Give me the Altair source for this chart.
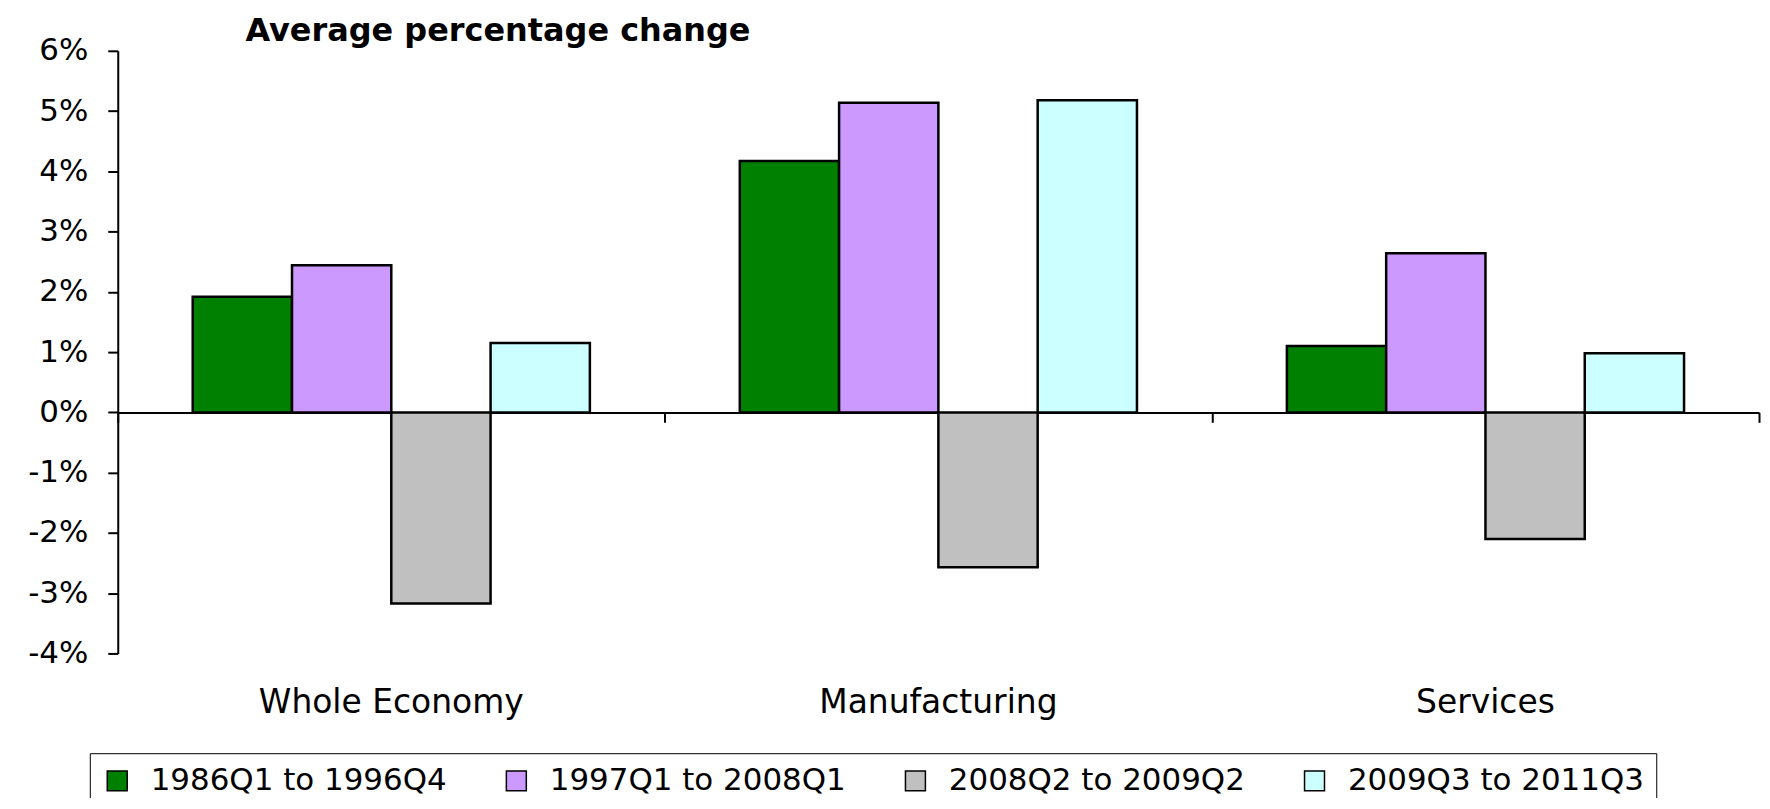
import altair as alt
import pandas as pd

categories = ["Whole Economy", "Manufacturing", "Services"]
periods = ["1986Q1 to 1996Q4", "1997Q1 to 2008Q1", "2008Q2 to 2009Q2", "2009Q3 to 2011Q3"]
colors = ["#008000", "#CC99FF", "#C0C0C0", "#CCFFFF"]

v_1986_1996 = [1.92, 4.17, 1.10]
v_1997_2008 = [2.44, 5.14, 2.64]
v_2008_2009 = [-3.17, -2.57, -2.10]
v_2009_2011 = [1.15, 5.18, 0.98]

y_ticks = [-4, -3, -2, -1, 0, 1, 2, 3, 4, 5, 6]
title_text = "Average percentage change"

series = [v_1986_1996, v_1997_2008, v_2008_2009, v_2009_2011]
rows = []
for i, c in enumerate(categories):
    for p, vals in zip(periods, series):
        rows.append({"category": c, "period": p, "value": vals[i]})
df = pd.DataFrame(rows)
cat_df = pd.DataFrame({"category": categories})

FONT = "DejaVu Sans"
W, H = 1645, 604
zero_off = -H * 0.4

x_scale = alt.Scale(domain=categories, paddingInner=0, paddingOuter=0)
y_scale = alt.Scale(domain=[-4, 6], nice=False, zero=False)

bars = alt.Chart(df).mark_bar(stroke="black", strokeWidth=2.5).encode(
    x=alt.X("category:N", sort=categories, scale=x_scale,
            axis=alt.Axis(orient="bottom", title=None, labels=False, domain=True,
                          domainColor="black", domainWidth=2, ticks=True, tickBand="extent",
                          tickSize=10, tickColor="black", tickWidth=2, offset=zero_off,
                          grid=False)),
    xOffset=alt.XOffset("period:N", sort=periods,
                        scale=alt.Scale(domain=periods, paddingOuter=0.755, paddingInner=0)),
    y=alt.Y("value:Q", scale=y_scale,
            axis=alt.Axis(values=y_ticks, labelExpr="datum.value + '%'", title=None, grid=False,
                          domainColor="black", domainWidth=2, tickColor="black", tickWidth=2,
                          tickSize=10, labelFont=FONT, labelFontSize=31, labelColor="black",
                          labelPadding=20)),
    color=alt.Color("period:N", sort=periods, scale=alt.Scale(domain=periods, range=colors),
                    legend=alt.Legend(title=None, orient="none", legendX=-28, legendY=704,
                                      direction="horizontal", symbolType="square", symbolSize=400,
                                      symbolStrokeColor="black", symbolStrokeWidth=1.5,
                                      labelFont=FONT, labelFontSize=31, labelColor="black",
                                      labelOffset=18, labelLimit=600, columnPadding=54,
                                      padding=12, strokeColor="black", fillColor="white")),
)

labels = alt.Chart(cat_df).mark_point(opacity=0).encode(
    x=alt.X("category:N", sort=categories, scale=x_scale,
            axis=alt.Axis(orient="bottom", title=None, domain=False, ticks=False,
                          labelPadding=33, labelFont=FONT, labelFontSize=33,
                          labelColor="black", grid=False, labelAngle=0, labelLimit=800)),
)

chart = alt.layer(bars, labels).resolve_axis(x="independent").properties(
    width=W, height=H,
    title=alt.TitleParams(title_text, anchor="start", frame="group", dx=128, dy=15, font=FONT,
                          fontSize=32, fontWeight="bold", color="black", offset=2),
    autosize=alt.AutoSizeParams(type="none"),
    padding={"left": 110, "top": 42, "right": 3, "bottom": 144},
    background="white",
).configure_view(strokeWidth=0, stroke="transparent")

chart.save("out.html", embed_options={"renderer": "svg", "actions": False})
